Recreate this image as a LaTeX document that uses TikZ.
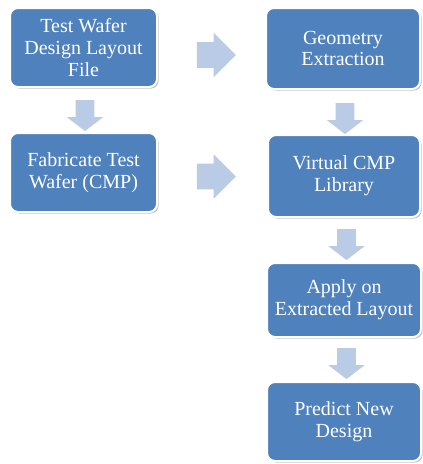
\documentclass[tikz,border=0pt]{standalone}
\usepackage{fontspec}
\setmainfont{Liberation Serif}
\usetikzlibrary{shapes.arrows,shadows}
\definecolor{boxblue}{RGB}{79,129,189}
\definecolor{arrowblue}{RGB}{185,203,229}
\tikzset{
  stepbox/.style={draw=white, line width=1.5pt, fill=boxblue, rounded corners=6pt,
    text=white, align=center, inner sep=0pt,
    font=\fontsize{15pt}{16.3pt}\selectfont,
    drop shadow={shadow xshift=1.2pt, shadow yshift=-1.2pt, opacity=0.35, fill=black!70}},
  downarrow/.style={shape=single arrow, fill=arrowblue, draw=none,
    shape border rotate=270, inner sep=6.75pt,
    minimum height=23.25pt, minimum width=27pt,
    single arrow head extend=6.75pt, single arrow tip angle=105},
  rightarrow/.style={shape=single arrow, fill=arrowblue, draw=none,
    inner sep=9.4pt, minimum height=29.25pt, minimum width=33pt,
    single arrow head extend=7.1pt, single arrow tip angle=90},
}
\begin{document}
\begin{tikzpicture}[x=0.75pt, y=-0.75pt]
  \useasboundingbox (0,0) rectangle (422,464);
  % left column
  \node[stepbox, minimum width=110.25pt, minimum height=59.25pt] (wafer) at (83.5,47.5)
    {Test Wafer\\Design Layout\\File};
  \node[stepbox, minimum width=110.25pt, minimum height=59.25pt] (fab) at (83.5,172.5)
    {Fabricate Test\\Wafer (CMP)};
  % right column
  \node[stepbox, minimum width=115.5pt, minimum height=60.75pt] (geom) at (343,48.5)
    {Geometry\\Extraction};
  \node[stepbox, minimum width=114pt, minimum height=61.5pt] (lib) at (344,176)
    {Virtual CMP\\Library};
  \node[stepbox, minimum width=115.5pt, minimum height=55.5pt] (apply) at (344,300)
    {Apply on\\Extracted Layout};
  \node[stepbox, minimum width=115.5pt, minimum height=59.25pt] (predict) at (344,421.5)
    {Predict New\\Design};
  % block arrows
  \node[downarrow] (a1) at (85,112) {};
  \node[rightarrow] (a2) at (210,55) {};
  \node[rightarrow] (a3) at (210,176.5) {};
  \node[downarrow] (a4) at (345,115) {};
  \node[downarrow] (a5) at (346.5,241) {};
  \node[downarrow] (a6) at (346.5,360) {};
\end{tikzpicture}
\end{document}
